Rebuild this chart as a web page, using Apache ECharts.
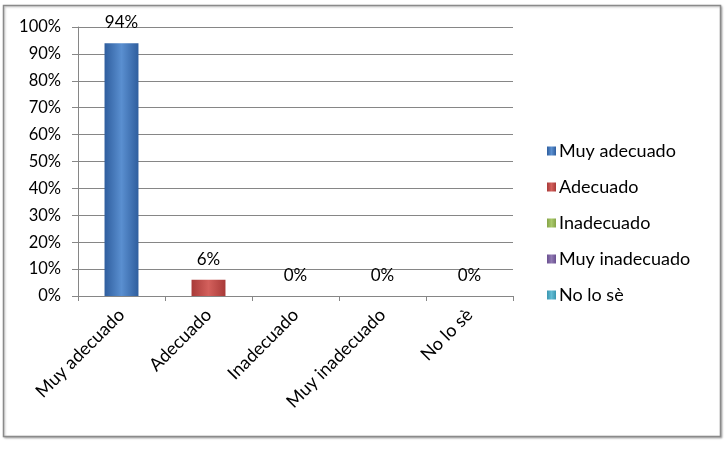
<!DOCTYPE html>
<html><head><meta charset="utf-8">
<script src="https://cdn.jsdelivr.net/npm/echarts@6/dist/echarts.min.js"></script>
<style>html,body{margin:0;padding:0;background:#fff}#c{width:727px;height:452px}</style>
</head><body><div id="c"></div>
<script>
const categories = ['Muy adecuado', 'Adecuado', 'Inadecuado', 'Muy inadecuado', 'No lo sè'];
const values = [94, 6, 0, 0, 0];
const yTicks = [0, 10, 20, 30, 40, 50, 60, 70, 80, 90, 100];
const colors = [
  ['#2f5e9e', '#5a8fd0'],
  ['#a83a38', '#d3605c'],
  ['#86a448', '#a9c96a'],
  ['#6a5090', '#9079b3'],
  ['#3a96b0', '#62bcd4']
];
const FONT = 'Lato';
const chart = echarts.init(document.getElementById('c'));
const series = categories.map((name, i) => ({
  name: name,
  type: 'bar',
  stack: 'all',
  barWidth: '39%',
  data: categories.map((c, j) => j === i ? values[i] : null),
  itemStyle: {
    color: new echarts.graphic.LinearGradient(0, 0, 1, 0, [
      {offset: 0, color: colors[i][0]},
      {offset: 0.5, color: colors[i][1]},
      {offset: 1, color: colors[i][0]}
    ])
  },
  label: {
    show: true, position: 'top', distance: 12,
    formatter: p => p.value + '%',
    fontFamily: FONT, fontSize: 17, color: '#000'
  }
}));
chart.setOption({
  animation: false,
  color: colors.map(c => c[1]),
  graphic: [{
    type: 'rect', z: -1,
    shape: {x: 3.5, y: 5.5, width: 717, height: 431},
    style: {fill: '#fff', stroke: '#8a8a8a', lineWidth: 1.5,
      shadowColor: 'rgba(0,0,0,0.25)', shadowBlur: 2, shadowOffsetX: 1, shadowOffsetY: 1}
  }],
  grid: {left: 78, right: 214, top: 27, bottom: 156},
  legend: {
    orient: 'vertical', left: 542, top: 137,
    itemWidth: 9, itemHeight: 9, itemGap: 18, icon: 'rect',
    data: categories,
    textStyle: {fontFamily: FONT, fontSize: 18, color: '#000', lineHeight: 18, padding: [0, 0, 0, -2]}
  },
  xAxis: {
    type: 'category', data: categories,
    axisLine: {lineStyle: {color: '#868686'}},
    axisTick: {show: true, length: 5, lineStyle: {color: '#868686'}},
    axisLabel: {rotate: 45, margin: 16, interval: 0, fontFamily: FONT, fontSize: 18, color: '#000'}
  },
  yAxis: {
    type: 'value', min: yTicks[0], max: yTicks[yTicks.length - 1], interval: 10,
    axisLine: {show: true, lineStyle: {color: '#868686'}},
    axisTick: {show: true, length: 6, lineStyle: {color: '#868686'}},
    splitLine: {lineStyle: {color: '#868686'}},
    axisLabel: {formatter: '{value}%', margin: 17, fontFamily: FONT, fontSize: 16.5, color: '#000'}
  },
  series: series
});
</script></body></html>
